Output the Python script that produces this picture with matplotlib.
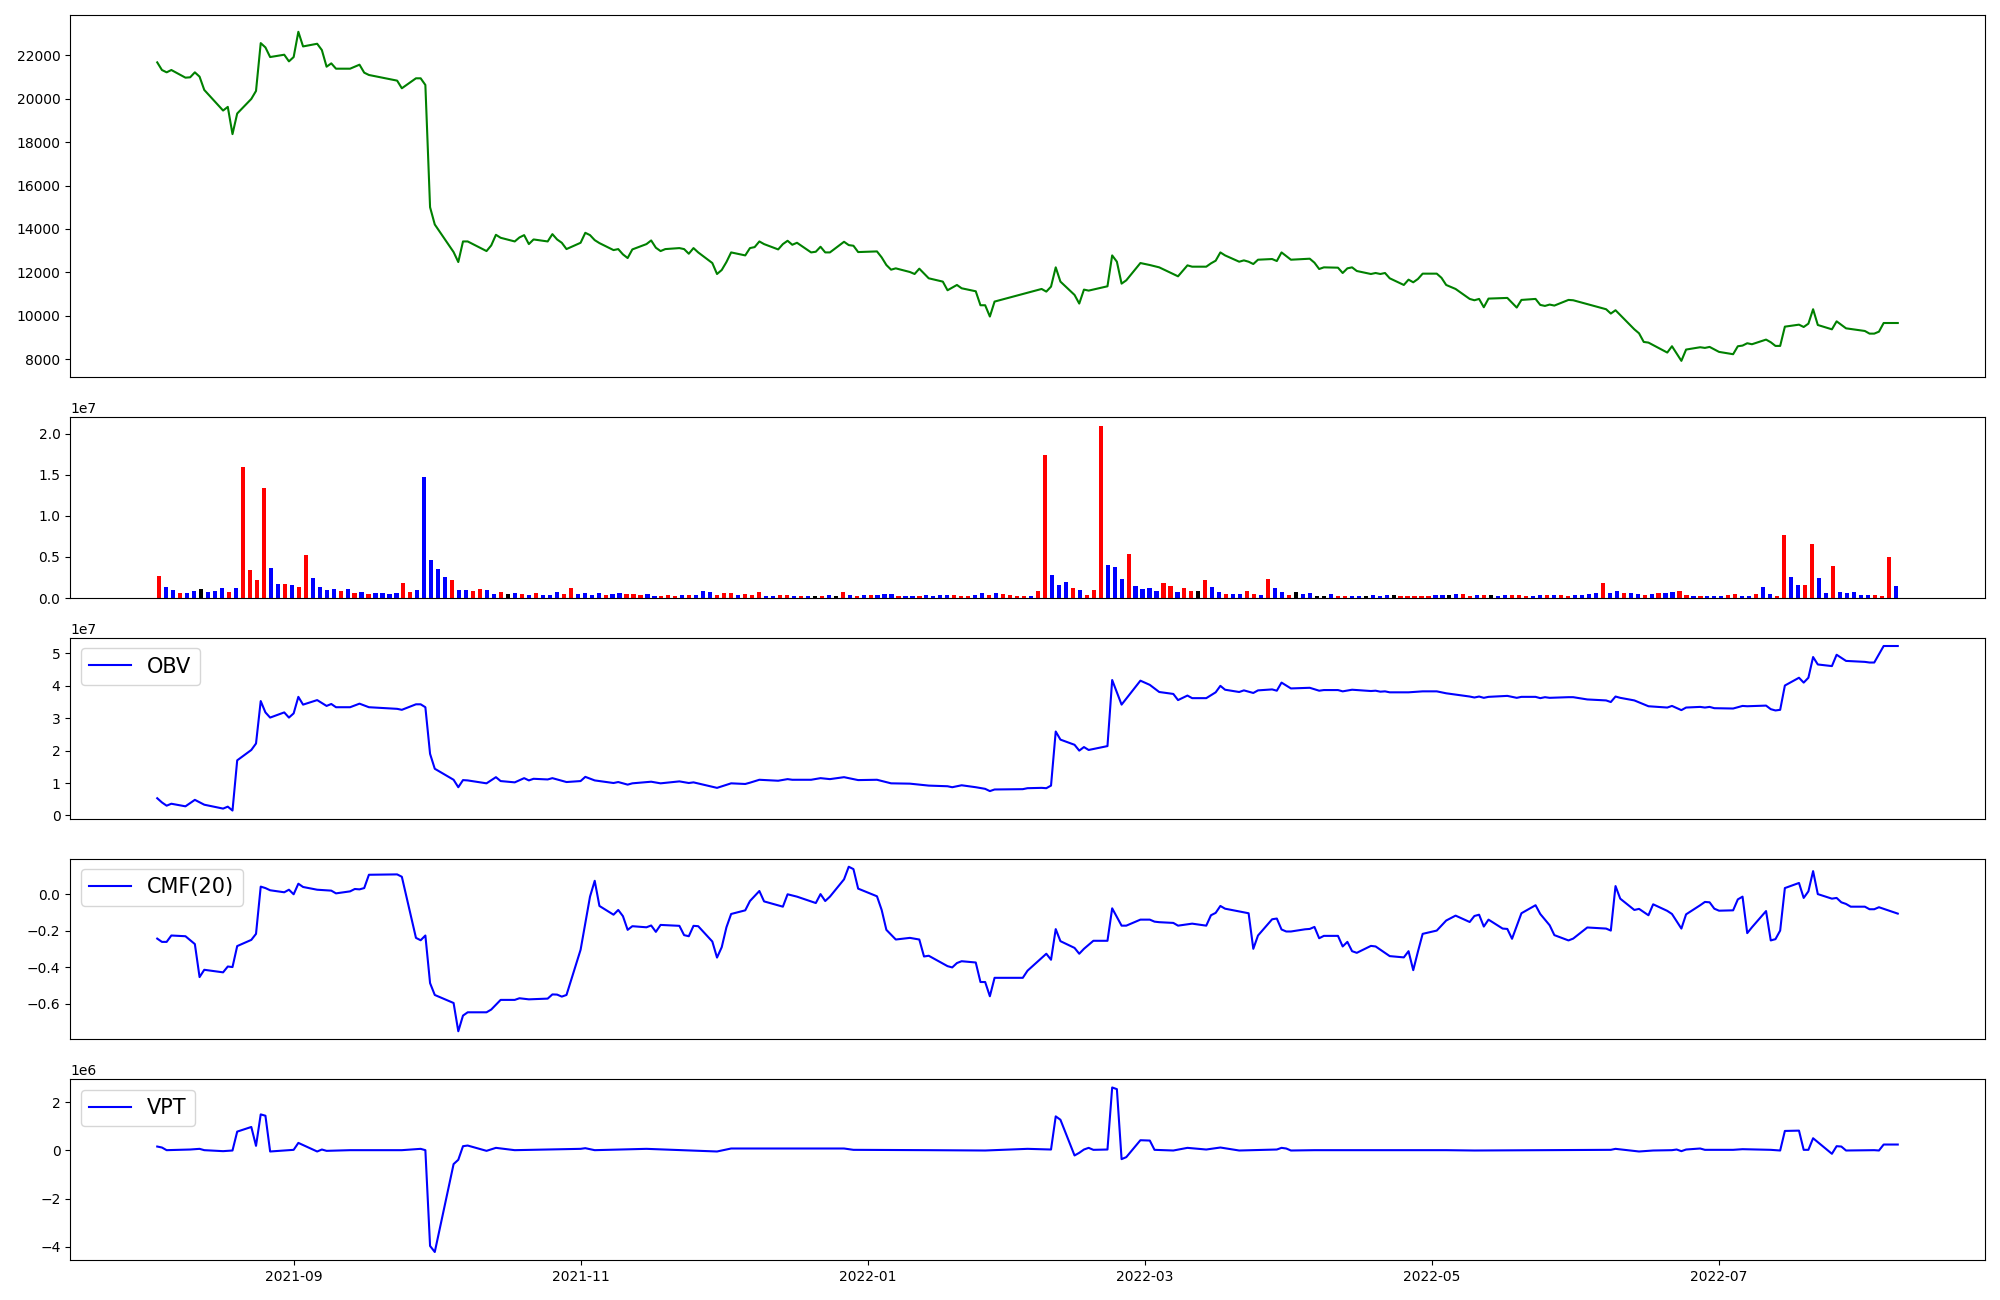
import numpy as np
import pandas as pd
import matplotlib
matplotlib.use("Agg")
import matplotlib.pyplot as plt

# ---------------- price (close) ----------------
price_dates = [
"2021-08-03","2021-08-04","2021-08-05","2021-08-06","2021-08-09","2021-08-10","2021-08-11","2021-08-12","2021-08-13",
"2021-08-17","2021-08-18","2021-08-19","2021-08-20","2021-08-23","2021-08-24","2021-08-25","2021-08-26","2021-08-27",
"2021-08-30","2021-08-31","2021-09-01","2021-09-02","2021-09-03","2021-09-06","2021-09-07","2021-09-08","2021-09-09",
"2021-09-10","2021-09-13","2021-09-15","2021-09-16","2021-09-17","2021-09-23","2021-09-24","2021-09-27","2021-09-28",
"2021-09-29","2021-09-30","2021-10-01","2021-10-05","2021-10-06","2021-10-07","2021-10-08","2021-10-12","2021-10-13",
"2021-10-14","2021-10-15","2021-10-18","2021-10-19","2021-10-20","2021-10-21","2021-10-22","2021-10-25","2021-10-26",
"2021-10-27","2021-10-28","2021-10-29","2021-11-01","2021-11-02","2021-11-03","2021-11-04","2021-11-05","2021-11-08",
"2021-11-09","2021-11-10","2021-11-11","2021-11-12","2021-11-15","2021-11-16","2021-11-17","2021-11-18","2021-11-19",
"2021-11-22","2021-11-23","2021-11-24","2021-11-25","2021-11-26","2021-11-29","2021-11-30","2021-12-01","2021-12-02",
"2021-12-03","2021-12-06","2021-12-07","2021-12-08","2021-12-09","2021-12-10","2021-12-13","2021-12-14","2021-12-15",
"2021-12-16","2021-12-17","2021-12-20","2021-12-21","2021-12-22","2021-12-23","2021-12-24","2021-12-27","2021-12-28",
"2021-12-29","2021-12-30","2022-01-03","2022-01-04","2022-01-05","2022-01-06","2022-01-07","2022-01-10","2022-01-11",
"2022-01-12","2022-01-14","2022-01-17","2022-01-18","2022-01-19","2022-01-20","2022-01-21","2022-01-24","2022-01-25",
"2022-01-26","2022-01-27","2022-01-28","2022-02-07","2022-02-08","2022-02-09","2022-02-10","2022-02-11","2022-02-14",
"2022-02-15","2022-02-16","2022-02-17","2022-02-21","2022-02-22","2022-02-23","2022-02-24","2022-02-25","2022-02-28",
"2022-03-02","2022-03-04","2022-03-08","2022-03-10","2022-03-11","2022-03-14","2022-03-15","2022-03-16","2022-03-17",
"2022-03-18","2022-03-21","2022-03-22","2022-03-23","2022-03-24","2022-03-25","2022-03-28","2022-03-29","2022-03-30",
"2022-04-01","2022-04-05","2022-04-06","2022-04-07","2022-04-08","2022-04-11","2022-04-12","2022-04-13","2022-04-14",
"2022-04-15","2022-04-18","2022-04-19","2022-04-20","2022-04-21","2022-04-22","2022-04-25","2022-04-26","2022-04-27",
"2022-04-28","2022-04-29","2022-05-02","2022-05-03","2022-05-04","2022-05-06","2022-05-09","2022-05-10","2022-05-11",
"2022-05-12","2022-05-13","2022-05-17","2022-05-19","2022-05-20","2022-05-23","2022-05-24","2022-05-25","2022-05-26",
"2022-05-27","2022-05-30","2022-05-31","2022-06-07","2022-06-08","2022-06-09","2022-06-13","2022-06-14","2022-06-15",
"2022-06-16","2022-06-20","2022-06-21","2022-06-23","2022-06-24","2022-06-27","2022-06-28","2022-06-29","2022-07-01",
"2022-07-04","2022-07-05","2022-07-06","2022-07-07","2022-07-08","2022-07-11","2022-07-12","2022-07-13","2022-07-14",
"2022-07-15","2022-07-18","2022-07-19","2022-07-20","2022-07-21","2022-07-22","2022-07-25","2022-07-26","2022-07-28",
"2022-08-01","2022-08-02","2022-08-03","2022-08-04","2022-08-05","2022-08-08"]
price_values = [
21671,21319,21212,21319,20967,20983,21212,21013,20401,
19453,19621,18366,19315,19988,20355,22558,22360,21916,
22023,21717,21916,23079,22405,22528,22237,21472,21625,
21380,21380,21564,21197,21090,20830,20478,20937,20937,
20631,15000,14205,12935,12476,13424,13424,12981,13240,
13730,13593,13424,13608,13715,13302,13516,13424,13761,
13516,13363,13073,13363,13822,13715,13485,13348,13026,
13072,12828,12659,13057,13302,13470,13134,12981,13072,
13118,13072,12858,13118,12919,12430,11925,12109,12476,
12919,12781,13118,13164,13424,13302,13057,13302,13455,
13271,13363,12919,12950,13180,12919,12919,13409,13256,
13226,12935,12965,12690,12338,12124,12185,12017,11925,
12170,11727,11574,11176,11298,11420,11267,11129,10486,
10486,9966,10655,11236,11114,11343,12231,11574,10961,
10563,11206,11160,11359,12781,12491,11481,11634,12430,
12338,12231,11818,12323,12262,12262,12415,12537,12919,
12781,12491,12552,12491,12384,12583,12614,12522,12919,
12583,12629,12446,12155,12231,12216,11971,12185,12231,
12063,11925,11971,11925,11971,11727,11420,11665,11543,
11696,11941,11941,11750,11420,11236,10777,10716,10777,
10394,10792,10823,10379,10731,10777,10501,10455,10517,
10471,10731,10716,10302,10103,10256,9377,9194,8796,
8766,8307,8598,7925,8445,8552,8521,8567,8338,
8231,8598,8628,8736,8690,8904,8782,8613,8613,
9500,9592,9485,9638,10302,9577,9377,9745,9423,
9301,9179,9179,9270,9668,9668]

# ---------------- volume (one bar per trading session, unit 1e7) ----------------
volume_e7 = [
0.27,0.13,0.10,0.06,0.06,0.085,0.11,0.073,0.085,0.12,0.073,0.12,
1.60,0.34,0.22,1.34,0.365,0.17,0.17,0.16,0.13,0.52,0.24,0.13,
0.10,0.11,0.085,0.11,0.06,0.073,0.05,0.06,0.06,0.05,0.06,0.18,
0.073,0.10,1.48,0.46,0.35,0.255,0.22,0.10,0.10,0.085,0.11,0.10,
0.05,0.073,0.05,0.06,0.05,0.036,0.06,0.036,0.036,0.073,0.05,0.12,
0.05,0.06,0.036,0.06,0.036,0.05,0.06,0.05,0.05,0.036,0.05,0.025,
0.025,0.036,0.025,0.036,0.036,0.036,0.085,0.073,0.036,0.06,0.06,0.036,
0.05,0.036,0.073,0.025,0.025,0.036,0.036,0.025,0.025,0.025,0.025,0.025,
0.036,0.025,0.073,0.036,0.025,0.036,0.036,0.036,0.05,0.05,0.025,0.025,
0.025,0.025,0.036,0.025,0.036,0.036,0.036,0.025,0.025,0.036,0.06,0.036,
0.06,0.05,0.036,0.025,0.025,0.025,0.085,1.74,0.28,0.16,0.195,0.12,
0.10,0.036,0.10,2.10,0.40,0.38,0.23,0.535,0.146,0.11,0.12,0.085,
0.18,0.146,0.073,0.12,0.085,0.085,0.22,0.13,0.073,0.05,0.05,0.05,
0.085,0.05,0.036,0.23,0.12,0.073,0.036,0.073,0.05,0.06,0.025,0.025,
0.05,0.025,0.025,0.025,0.025,0.025,0.036,0.025,0.036,0.036,0.025,0.025,
0.025,0.025,0.025,0.036,0.036,0.036,0.05,0.05,0.025,0.036,0.036,0.036,
0.025,0.036,0.036,0.036,0.025,0.025,0.036,0.036,0.036,0.036,0.025,0.036,
0.036,0.05,0.06,0.18,0.06,0.085,0.06,0.06,0.05,0.036,0.05,0.06,
0.06,0.073,0.085,0.036,0.025,0.025,0.025,0.025,0.025,0.036,0.05,0.025,
0.025,0.05,0.13,0.05,0.025,0.766,0.255,0.16,0.16,0.656,0.243,0.06,
0.39,0.073,0.06,0.073,0.036,0.036,0.036,0.025,0.50,0.146]
# day direction of the close: + up, - down, 0 unchanged
volume_direction = (
"+--+--0---+-" "++++--+-++--" "--+-+-+----+" "+-----+--++-" "-+0-+-+---++"
"----+--+++--" "+++-+---+++-" "+++--++-+-0+" "-0+-+-+---+-" "-+----+++--+"
"-++++-++---+" "-+++---+----" "++-++0+--+--" "++-+--+0--00" "-++--0---0++"
"+++--0-++-+0" "--+++--+-++-" "---+--+--+-+" "--++-+---++-" "-+--++--++--"
"+-----+++-")

# ---------------- OBV (unit 1e7) ----------------
obv_dates = [
"2021-08-03","2021-08-04","2021-08-05","2021-08-06","2021-08-09","2021-08-11","2021-08-13","2021-08-17","2021-08-18",
"2021-08-19","2021-08-20","2021-08-23","2021-08-24","2021-08-25","2021-08-26","2021-08-27","2021-08-30","2021-08-31",
"2021-09-01","2021-09-02","2021-09-03","2021-09-06","2021-09-08","2021-09-09","2021-09-10","2021-09-13","2021-09-15",
"2021-09-17","2021-09-23","2021-09-24","2021-09-27","2021-09-28","2021-09-29","2021-09-30","2021-10-01","2021-10-05",
"2021-10-06","2021-10-07","2021-10-08","2021-10-12","2021-10-14","2021-10-15","2021-10-18","2021-10-20","2021-10-21",
"2021-10-22","2021-10-25","2021-10-26","2021-10-29","2021-11-01","2021-11-02","2021-11-04","2021-11-08","2021-11-09",
"2021-11-11","2021-11-12","2021-11-16","2021-11-18","2021-11-22","2021-11-24","2021-11-25","2021-11-30","2021-12-03",
"2021-12-06","2021-12-07","2021-12-09","2021-12-13","2021-12-15","2021-12-16","2021-12-20","2021-12-22","2021-12-24",
"2021-12-27","2021-12-30","2022-01-03","2022-01-06","2022-01-10","2022-01-12","2022-01-14","2022-01-18","2022-01-19",
"2022-01-21","2022-01-24","2022-01-26","2022-01-27","2022-01-28","2022-02-03","2022-02-04","2022-02-07","2022-02-08",
"2022-02-09","2022-02-10","2022-02-11","2022-02-14","2022-02-15","2022-02-16","2022-02-17","2022-02-21","2022-02-22",
"2022-02-24","2022-02-28","2022-03-02","2022-03-04","2022-03-07","2022-03-08","2022-03-10","2022-03-11","2022-03-14",
"2022-03-16","2022-03-17","2022-03-18","2022-03-21","2022-03-22","2022-03-24","2022-03-25","2022-03-28","2022-03-29",
"2022-03-30","2022-04-01","2022-04-05","2022-04-07","2022-04-08","2022-04-11","2022-04-12","2022-04-14","2022-04-18",
"2022-04-19","2022-04-20","2022-04-21","2022-04-22","2022-04-26","2022-04-29","2022-05-02","2022-05-04","2022-05-06",
"2022-05-09","2022-05-10","2022-05-11","2022-05-12","2022-05-13","2022-05-17","2022-05-19","2022-05-20","2022-05-23",
"2022-05-24","2022-05-25","2022-05-26","2022-05-30","2022-05-31","2022-06-03","2022-06-07","2022-06-08","2022-06-09",
"2022-06-10","2022-06-13","2022-06-15","2022-06-16","2022-06-20","2022-06-21","2022-06-23","2022-06-24","2022-06-27",
"2022-06-28","2022-06-29","2022-06-30","2022-07-04","2022-07-06","2022-07-07","2022-07-11","2022-07-12","2022-07-13",
"2022-07-14","2022-07-15","2022-07-18","2022-07-19","2022-07-20","2022-07-21","2022-07-22","2022-07-25","2022-07-26",
"2022-07-28","2022-08-01","2022-08-02","2022-08-03","2022-08-05","2022-08-08"]
obv_e7 = [
0.53,0.40,0.30,0.36,0.28,0.48,0.33,0.21,0.27,
0.15,1.70,2.02,2.22,3.53,3.18,3.02,3.18,3.02,
3.15,3.66,3.42,3.56,3.38,3.44,3.34,3.34,3.45,
3.34,3.29,3.26,3.43,3.43,3.34,1.90,1.44,1.10,
0.87,1.09,1.08,0.99,1.18,1.06,1.02,1.15,1.08,
1.13,1.11,1.15,1.03,1.06,1.19,1.08,1.00,1.03,
0.95,0.99,1.04,0.99,1.05,1.00,1.02,0.85,0.99,
0.97,1.01,1.10,1.07,1.12,1.10,1.10,1.15,1.12,
1.18,1.09,1.10,0.99,0.98,0.95,0.92,0.90,0.87,
0.93,0.87,0.82,0.75,0.80,0.81,0.84,0.85,0.84,
0.92,2.59,2.34,2.18,2.00,2.11,2.02,2.14,4.18,
3.42,4.16,4.03,3.81,3.75,3.56,3.70,3.62,3.62,
3.80,4.00,3.88,3.81,3.86,3.78,3.86,3.89,3.85,
4.10,3.92,3.94,3.85,3.87,3.87,3.83,3.88,3.84,
3.85,3.82,3.83,3.80,3.80,3.83,3.83,3.77,3.73,
3.67,3.64,3.67,3.63,3.66,3.69,3.63,3.66,3.66,
3.62,3.65,3.63,3.65,3.65,3.58,3.55,3.50,3.67,
3.63,3.55,3.43,3.37,3.33,3.38,3.25,3.33,3.35,
3.33,3.35,3.31,3.30,3.38,3.37,3.39,3.28,3.24,
3.26,4.01,4.25,4.10,4.25,4.89,4.66,4.61,4.96,
4.77,4.74,4.72,4.72,5.23,5.23]

# ---------------- CMF(20) ----------------
cmf_dates = [
"2021-08-03","2021-08-04","2021-08-05","2021-08-06","2021-08-09","2021-08-11","2021-08-12","2021-08-13","2021-08-17",
"2021-08-18","2021-08-19","2021-08-20","2021-08-23","2021-08-24","2021-08-25","2021-08-26","2021-08-27","2021-08-30",
"2021-08-31","2021-09-01","2021-09-02","2021-09-03","2021-09-06","2021-09-09","2021-09-10","2021-09-13","2021-09-14",
"2021-09-15","2021-09-16","2021-09-17","2021-09-23","2021-09-24","2021-09-27","2021-09-28","2021-09-29","2021-09-30",
"2021-10-01","2021-10-05","2021-10-06","2021-10-07","2021-10-08","2021-10-12","2021-10-13","2021-10-15","2021-10-18",
"2021-10-19","2021-10-21","2021-10-25","2021-10-26","2021-10-27","2021-10-28","2021-10-29","2021-11-01","2021-11-03",
"2021-11-04","2021-11-05","2021-11-08","2021-11-09","2021-11-10","2021-11-11","2021-11-12","2021-11-15","2021-11-16",
"2021-11-17","2021-11-18","2021-11-22","2021-11-23","2021-11-24","2021-11-25","2021-11-26","2021-11-29","2021-11-30",
"2021-12-01","2021-12-02","2021-12-03","2021-12-06","2021-12-07","2021-12-09","2021-12-10","2021-12-14","2021-12-15",
"2021-12-17","2021-12-21","2021-12-22","2021-12-23","2021-12-24","2021-12-27","2021-12-28","2021-12-29","2021-12-30",
"2022-01-03","2022-01-04","2022-01-05","2022-01-07","2022-01-10","2022-01-12","2022-01-13","2022-01-14","2022-01-18",
"2022-01-19","2022-01-20","2022-01-21","2022-01-24","2022-01-25","2022-01-26","2022-01-27","2022-01-28","2022-02-03",
"2022-02-04","2022-02-08","2022-02-09","2022-02-10","2022-02-11","2022-02-14","2022-02-15","2022-02-16","2022-02-18",
"2022-02-21","2022-02-22","2022-02-24","2022-02-25","2022-02-28","2022-03-02","2022-03-03","2022-03-04","2022-03-07",
"2022-03-08","2022-03-11","2022-03-14","2022-03-15","2022-03-16","2022-03-17","2022-03-18","2022-03-23","2022-03-24",
"2022-03-25","2022-03-28","2022-03-29","2022-03-30","2022-03-31","2022-04-01","2022-04-04","2022-04-05","2022-04-06",
"2022-04-07","2022-04-08","2022-04-11","2022-04-12","2022-04-13","2022-04-14","2022-04-15","2022-04-18","2022-04-19",
"2022-04-22","2022-04-25","2022-04-26","2022-04-27","2022-04-28","2022-04-29","2022-05-02","2022-05-04","2022-05-06",
"2022-05-09","2022-05-10","2022-05-11","2022-05-12","2022-05-13","2022-05-16","2022-05-17","2022-05-18","2022-05-20",
"2022-05-23","2022-05-24","2022-05-26","2022-05-27","2022-05-30","2022-05-31","2022-06-03","2022-06-07","2022-06-08",
"2022-06-09","2022-06-10","2022-06-13","2022-06-14","2022-06-16","2022-06-17","2022-06-20","2022-06-21","2022-06-23",
"2022-06-24","2022-06-27","2022-06-28","2022-06-29","2022-06-30","2022-07-01","2022-07-04","2022-07-05","2022-07-06",
"2022-07-07","2022-07-08","2022-07-11","2022-07-12","2022-07-13","2022-07-14","2022-07-15","2022-07-18","2022-07-19",
"2022-07-20","2022-07-21","2022-07-22","2022-07-25","2022-07-26","2022-07-27","2022-07-28","2022-07-29","2022-08-01",
"2022-08-02","2022-08-03","2022-08-04","2022-08-08"]
cmf_values = [
-0.244,-0.262,-0.262,-0.227,-0.231,-0.274,-0.455,-0.415,-0.429,
-0.397,-0.400,-0.285,-0.251,-0.218,0.041,0.033,0.021,0.010,
0.024,-0.001,0.057,0.039,0.024,0.019,0.004,0.015,0.028,
0.026,0.033,0.106,0.108,0.095,-0.240,-0.253,-0.227,-0.488,
-0.553,-0.597,-0.752,-0.666,-0.648,-0.648,-0.633,-0.580,-0.580,
-0.571,-0.577,-0.573,-0.550,-0.551,-0.562,-0.553,-0.305,-0.014,
0.073,-0.065,-0.113,-0.087,-0.121,-0.196,-0.176,-0.182,-0.172,
-0.207,-0.169,-0.174,-0.225,-0.231,-0.174,-0.176,-0.260,-0.348,
-0.291,-0.182,-0.109,-0.089,-0.038,0.017,-0.040,-0.069,-0.001,
-0.014,-0.049,0.000,-0.038,-0.014,0.081,0.150,0.137,0.030,
-0.012,-0.087,-0.196,-0.249,-0.240,-0.249,-0.342,-0.338,-0.395,
-0.402,-0.378,-0.368,-0.375,-0.482,-0.482,-0.560,-0.459,-0.459,
-0.420,-0.327,-0.360,-0.192,-0.258,-0.295,-0.327,-0.300,-0.256,
-0.256,-0.078,-0.173,-0.173,-0.140,-0.140,-0.151,-0.154,-0.158,
-0.173,-0.162,-0.173,-0.116,-0.103,-0.065,-0.080,-0.105,-0.300,
-0.227,-0.138,-0.134,-0.194,-0.205,-0.205,-0.193,-0.191,-0.180,
-0.242,-0.229,-0.229,-0.287,-0.262,-0.313,-0.322,-0.284,-0.287,
-0.340,-0.347,-0.313,-0.417,-0.315,-0.218,-0.200,-0.145,-0.118,
-0.153,-0.120,-0.113,-0.178,-0.140,-0.189,-0.191,-0.245,-0.105,
-0.061,-0.109,-0.171,-0.225,-0.254,-0.244,-0.183,-0.189,-0.200,
0.044,-0.025,-0.087,-0.081,-0.116,-0.056,-0.092,-0.109,-0.189,
-0.111,-0.061,-0.043,-0.045,-0.080,-0.091,-0.089,-0.029,-0.014,
-0.214,-0.182,-0.093,-0.254,-0.247,-0.200,0.033,0.061,-0.021,
0.015,0.126,0.000,-0.025,-0.021,-0.045,-0.054,-0.069,-0.069,
-0.083,-0.083,-0.072,-0.107]

# ---------------- VPT (unit 1e6) ----------------
vpt_dates = [
"2021-08-03","2021-08-04","2021-08-05","2021-08-10","2021-08-12","2021-08-13","2021-08-17","2021-08-19","2021-08-20",
"2021-08-23","2021-08-24","2021-08-25","2021-08-26","2021-08-27","2021-09-01","2021-09-02","2021-09-06","2021-09-07",
"2021-09-08","2021-09-13","2021-09-24","2021-09-28","2021-09-29","2021-09-30","2021-10-01","2021-10-05","2021-10-06",
"2021-10-07","2021-10-08","2021-10-12","2021-10-14","2021-10-18","2021-11-01","2021-11-02","2021-11-04","2021-11-15",
"2021-11-30","2021-12-03","2021-12-27","2021-12-29","2022-01-14","2022-01-26","2022-02-04","2022-02-09","2022-02-10",
"2022-02-11","2022-02-14","2022-02-15","2022-02-16","2022-02-17","2022-02-18","2022-02-21","2022-02-22","2022-02-23",
"2022-02-24","2022-02-25","2022-02-28","2022-03-02","2022-03-03","2022-03-07","2022-03-10","2022-03-14","2022-03-17",
"2022-03-21","2022-03-29","2022-03-30","2022-03-31","2022-04-01","2022-04-06","2022-05-04","2022-05-10","2022-06-08",
"2022-06-09","2022-06-14","2022-06-17","2022-06-21","2022-06-22","2022-06-23","2022-06-24","2022-06-27","2022-06-28",
"2022-07-04","2022-07-06","2022-07-12","2022-07-14","2022-07-15","2022-07-18","2022-07-19","2022-07-20","2022-07-21",
"2022-07-25","2022-07-26","2022-07-27","2022-07-28","2022-08-03","2022-08-04","2022-08-05","2022-08-08"]
vpt_e6 = [
0.158,0.117,0.007,0.034,0.062,0.007,-0.034,-0.007,0.777,
0.970,0.186,1.492,1.437,-0.048,0.021,0.309,-0.048,0.034,
-0.021,0.007,0.007,0.062,0.007,-3.97,-4.22,-0.571,-0.392,
0.172,0.199,-0.021,0.103,0.007,0.062,0.089,0.007,0.062,
-0.048,0.076,0.076,0.021,0.007,-0.007,0.062,0.034,1.41,
1.27,-0.213,-0.103,0.034,0.103,0.021,0.034,2.61,2.54,
-0.365,-0.282,0.420,0.406,0.021,-0.007,0.103,0.034,0.117,
-0.007,0.034,0.103,0.076,-0.007,0.007,0.007,-0.007,0.021,
0.062,-0.048,-0.007,0.007,0.034,-0.034,0.034,0.076,0.021,
0.021,0.048,0.021,-0.007,0.805,0.818,0.021,0.021,0.502,
-0.144,0.172,0.158,-0.007,0.007,-0.007,0.241,0.241]

# ---------------- figure ----------------
fig = plt.figure(figsize=(20, 13), dpi=100)
gs = fig.add_gridspec(5, 1, height_ratios=[2, 1, 1, 1, 1],
                      left=0.0351, right=0.9924, top=0.9882, bottom=0.0306, hspace=0.183)
ax_price = fig.add_subplot(gs[0])
ax_vol = fig.add_subplot(gs[1])
ax_obv = fig.add_subplot(gs[2], sharex=ax_price)
ax_cmf = fig.add_subplot(gs[3], sharex=ax_price)
ax_vpt = fig.add_subplot(gs[4], sharex=ax_price)

ax_price.plot(pd.to_datetime(price_dates), price_values, color="green")

color_map = {"+": "red", "-": "blue", "0": "black"}
bar_colors = [color_map[c] for c in volume_direction]
vol = np.array(volume_e7) * 1e7
ax_vol.bar(np.arange(len(vol)), vol, width=0.6, color=bar_colors)
ax_vol.set_xticks([])

ax_obv.plot(pd.to_datetime(obv_dates), np.array(obv_e7) * 1e7, color="blue", label="OBV")
ax_cmf.plot(pd.to_datetime(cmf_dates), cmf_values, color="blue", label="CMF(20)")
ax_vpt.plot(pd.to_datetime(vpt_dates), np.array(vpt_e6) * 1e6, color="blue", label="VPT")

for ax in (ax_obv, ax_cmf, ax_vpt):
    ax.legend(loc="upper left", fontsize=15)

for ax in (ax_price, ax_obv, ax_cmf):
    ax.tick_params(axis="x", bottom=False, labelbottom=False)

fig.savefig("out.png", dpi=100)
